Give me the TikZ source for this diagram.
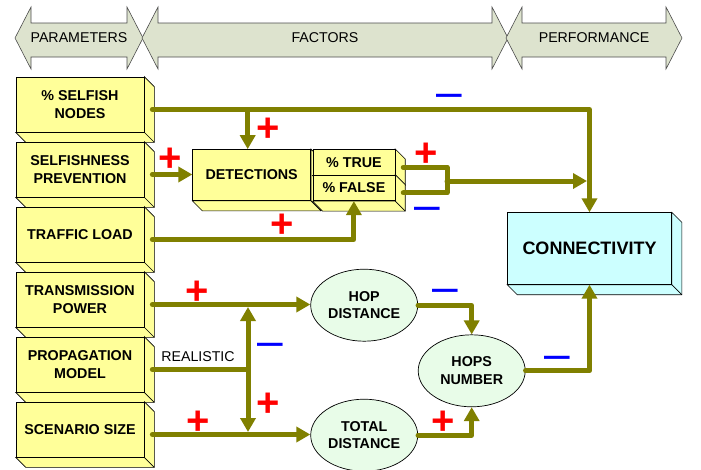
\documentclass[tikz,border=0pt]{standalone}
\usepackage{fontspec}
\setmainfont{Liberation Sans}
\usetikzlibrary{positioning,shapes.geometric,arrows.meta}

\definecolor{boxyellow}{RGB}{255,255,153}
\definecolor{boxcyan}{RGB}{204,255,255}
\definecolor{ellgreen}{RGB}{232,252,232}
\definecolor{bannergray}{RGB}{221,227,206}
\definecolor{flowcol}{RGB}{128,128,0}

\tikzset{
  box3d/.style={draw=black, line width=0.7pt, fill=#1, align=center, inner sep=0pt,
    append after command={\pgfextra{
      \draw[line width=0.7pt, fill=#1] (\tikzlastnode.north east) -- ++(10,10)
        -- ([shift={(10,10)}]\tikzlastnode.south east)
        -- ([shift={(10,10)}]\tikzlastnode.south west)
        -- (\tikzlastnode.south west) -- (\tikzlastnode.south east) -- cycle;
      \draw[line width=0.7pt] (\tikzlastnode.south east) -- ++(10,10);
    }}}
}

\begin{document}
\begin{tikzpicture}[x=1pt, y=-1pt, node distance=65pt]
    \tikzstyle{banner} = [draw=black!70, line width=0.6pt, fill=bannergray]
    \tikzstyle{bannertext} = [font=\fontsize{14.2}{17}\selectfont]
    \tikzstyle{param} = [box3d=boxyellow, minimum width=128pt, minimum height=55pt, font=\fontsize{14.3}{17.5}\selectfont\bfseries]
    \tikzstyle{factor} = [box3d=boxyellow, font=\fontsize{14.3}{17.5}\selectfont\bfseries]
    \tikzstyle{factorell} = [ellipse, draw=black, line width=0.7pt, fill=ellgreen, minimum width=107pt, minimum height=72pt, inner sep=0pt, align=center, font=\fontsize{14.3}{17.5}\selectfont\bfseries]
    \tikzstyle{perf} = [box3d=boxcyan, minimum width=164pt, minimum height=71.6pt, font=\fontsize{18}{20}\selectfont\bfseries]
    \tikzstyle{line} = [draw=flowcol, line width=5pt, line cap=round, line join=round]
    \tikzstyle{flow} = [line, -{Triangle[length=14pt, width=15pt]}]
    \tikzstyle{flowboth} = [line, {Triangle[length=14pt, width=15pt]}-{Triangle[length=14pt, width=15pt]}]
    \tikzstyle{plussign} = [text=red, inner sep=0pt, font=\fontsize{40}{40}\selectfont\bfseries, text height=28pt, text depth=0pt]
    \tikzstyle{minussign} = [text=blue, inner sep=0pt, font=\fontsize{46}{46}\selectfont, text height=23pt, text depth=0pt]

    \useasboundingbox (0,0) rectangle (701,469);

    \foreach \a/\b/\txt [count=\i] in {15/143/PARAMETERS, 142/508/FACTORS, 506/682/PERFORMANCE}{
        \draw[banner] (\a,38) -- (\a+16,7) -- (\a+16,23) -- (\b-16,23) -- (\b-16,7) -- (\b,38)
            -- (\b-16,69) -- (\b-16,57) -- (\a+16,57) -- (\a+16,69) -- cycle;
        \node[bannertext] (ban\i) at ({(\a+\b)/2},38) {\txt};
    }

    \node[param] (P1) at (80,104.5) {\% SELFISH\\NODES};
    \node[param, below of = P1] (P2) {SELFISHNESS\\PREVENTION};
    \node[param, below of = P2] (P3) {TRAFFIC LOAD};
    \node[param, below of = P3] (P4) {TRANSMISSION\\POWER};
    \node[param, below of = P4] (P5) {PROPAGATION\\MODEL};
    \node[param, below of = P5] (P6) {SCENARIO SIZE};

    \node[factor, minimum width=118pt, minimum height=51pt] (DET) at (251.7,175) {DETECTIONS};
    \node[factor, minimum width=82pt, minimum height=25.7pt] (TRUE) at (353.9,162.2) {\% TRUE};
    \node[factor, minimum width=82pt, minimum height=25.7pt] (FALSE) at (353.9,187.9) {\% FALSE};

    \node[perf] (CONN) at (589.5,248.5) {CONNECTIVITY};

    \node[factorell] (HOP) at (364.2,305.2) {HOP\\DISTANCE};
    \node[factorell, below of = HOP, yshift=-65pt] (TOT) {TOTAL\\DISTANCE};
    \node[factorell] (HOPS) at (471.7,370.8) {HOPS\\NUMBER};

    \node[bannertext] (real) at (198,357) {REALISTIC};

    \foreach \n in {1,...,6}
        \coordinate (out\n) at ([shift={(8,5)}]P\n.east);
    \coordinate (outT) at ([shift={(8,5)}]TRUE.east);
    \coordinate (outF) at ([shift={(8,5)}]FALSE.east);
    \coordinate (detin) at ([xshift=-4pt]DET.north);
    \coordinate (tf) at (447,181);
    \coordinate (split) at (248,370);

    \draw[flow] (out1) -| (CONN.north);
    \draw[flow] (out1 -| detin) -- (detin);
    \draw[flow] (out2) -- (out2 -| DET.west);
    \draw[flow] (out3) -| (FALSE.south);
    \draw[line] (outT) -| (tf |- outF) -- (outF);
    \draw[flow, shorten >=2.5pt] (tf) -- (tf -| CONN.north);
    \draw[flow] (out4) -- (out4 -| HOP.west);
    \draw[line] (out5) -- (out5 -| split);
    \draw[flowboth, shorten <=2.5pt, shorten >=2.5pt] (split |- out4) -- (split |- out6);
    \draw[flow] (out6) -- (out6 -| TOT.west);
    \draw[flow] (HOP.east) -| (HOPS.north);
    \draw[flow] (TOT.east) -| (HOPS.south);
    \draw[flow] (HOPS.east) -| (CONN.south);

    \node[plussign] (pdet) at (268,127) {+};
    \node[plussign] (pprev) at (170,157) {+};
    \node[plussign] (ptraf) at (282,223) {+};
    \node[plussign] (ptrue) at (426,152) {+};
    \node[plussign] (ppow) at (197,290) {+};
    \node[plussign] (preal) at (268,402) {+};
    \node[plussign] (psize) at (198,420) {+};
    \node[plussign] (ptot) at (443,420) {+};
    \node[minussign] (mself) at (449,96) {–};
    \node[minussign] (mfalse) at (427,209) {–};
    \node[minussign] (mreal) at (270,345) {–};
    \node[minussign] (mhop) at (445,291) {–};
    \node[minussign] (mhops) at (557,358) {–};

\end{tikzpicture}
\end{document}
